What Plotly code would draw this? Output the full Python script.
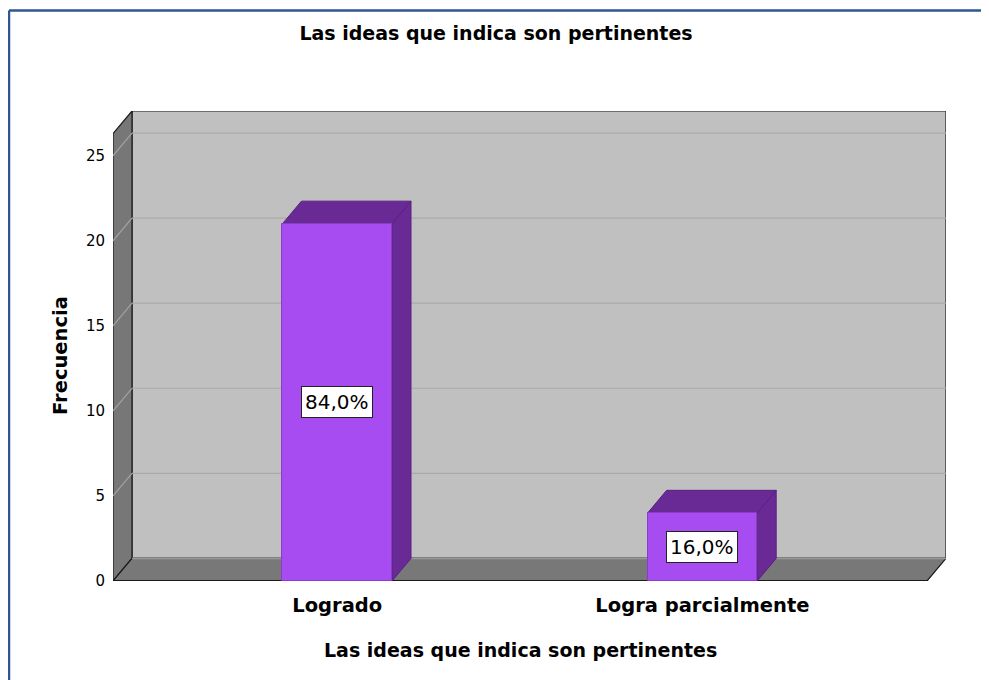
import plotly.graph_objects as go

# ---- data ----
categories = ["Logrado", "Logra parcialmente"]
frequencies = [21, 4]
y_ticks = [0, 5, 10, 15, 20, 25]
chart_title = "Las ideas que indica son pertinentes"
x_title = "Las ideas que indica son pertinentes"
y_title = "Frecuencia"

total = sum(frequencies)
pct_labels = [f"{v / total * 100:.1f}%".replace(".", ",") for v in frequencies]

# ---- geometry / style (data units) ----
X0, X1 = -0.614, 1.615      # front floor extent
DX, DY = 0.052, 1.33        # 3D depth offset
YTOP = 27.63                # axis top
YMAX = YTOP - DY            # front top of the wall
BW = 0.30                   # bar width
FONT = "DejaVu Sans, Verdana, sans-serif"

WALL = "#c0c0c0"
SIDE = "#777777"
FLOOR = "#787878"
EDGE = "#1a1a1a"
BAR_FRONT = "#a64cf0"
BAR_DARK = "#6a2a96"

# page body has an 8px margin: figure is drawn 8px right/down
OFF = 8
W, H = 989 - OFF, 680 - OFF
ML, MT, MR, MB = 113 - OFF, 111 - OFF, 989 - 946, 680 - 581

fig = go.Figure()

def poly(xs, ys, fill, line_color=EDGE, width=1.2):
    fig.add_trace(go.Scatter(
        x=list(xs) + [xs[0]], y=list(ys) + [ys[0]], mode="lines",
        fill="toself", fillcolor=fill,
        line=dict(color=line_color, width=width),
        hoverinfo="skip", showlegend=False))

def seg(xs, ys, color, width=1.2):
    fig.add_trace(go.Scatter(
        x=xs, y=ys, mode="lines", line=dict(color=color, width=width),
        hoverinfo="skip", showlegend=False))

# back wall
poly([X0 + DX, X1 + DX, X1 + DX, X0 + DX], [DY, DY, YMAX + DY, YMAX + DY], WALL)
# left wall
poly([X0, X0 + DX, X0 + DX, X0], [0, DY, YMAX + DY, YMAX], SIDE)
# grid lines
for v in y_ticks[1:]:
    seg([X0 + DX, X1 + DX], [v + DY, v + DY], "#aaaaaa", 1.2)
    seg([X0, X0 + DX], [v, v + DY], "#a3a3a3", 1.2)
# floor
poly([X0, X1, X1 + DX, X0 + DX], [0, 0, DY, DY], FLOOR)
seg([X0 + DX, X1 + DX], [DY, DY], "#9a9a9a", 1.5)
seg([X0, X1], [0, 0], EDGE, 2)

# bar side and top faces
for i, v in enumerate(frequencies):
    xl, xr = i - BW / 2, i + BW / 2
    poly([xr, xr + DX, xr + DX, xr], [0, DY, v + DY, v], BAR_DARK, "#5a2080", 1)
    poly([xl, xr, xr + DX, xl + DX], [v, v, v + DY, v + DY], BAR_DARK, "#5a2080", 1)

# bar front faces (on an overlaid twin axis so they are drawn on top)
fig.add_trace(go.Bar(
    x=list(range(len(categories))), y=frequencies, width=BW,
    xaxis="x2", yaxis="y2",
    marker=dict(color=BAR_FRONT, line=dict(color="#8a3cc8", width=1)),
    hoverinfo="skip", showlegend=False))

# percentage labels
for i, (v, lab) in enumerate(zip(frequencies, pct_labels)):
    fig.add_annotation(
        x=i, y=v / 2, text=lab, showarrow=False,
        font=dict(family=FONT, size=20, color="black"),
        bgcolor="white", bordercolor="#222", borderwidth=1, borderpad=3)

# y axis title
fig.add_annotation(
    xref="paper", yref="paper", x=(60 - 113) / 833, y=(581 - 356) / 470,
    xanchor="center", yanchor="middle",
    text=f"<b>{y_title}</b>", textangle=-90, showarrow=False,
    font=dict(family=FONT, size=19.5, color="black"))

# x axis title (centred on the front floor)
fig.add_annotation(
    xref="x", yref="paper", x=(X0 + X1) / 2, y=(581 - 650) / 470,
    xanchor="center", yanchor="middle",
    text=f"<b>{x_title}</b>", showarrow=False,
    font=dict(family=FONT, size=19, color="black"))

# outer blue frame
fx = (9 - 113) / 833
fy = (581 - 10.5) / 470
fig.add_shape(type="line", xref="paper", yref="paper",
              x0=fx, x1=fx, y0=fy, y1=(581 - 700) / 470,
              line=dict(color="#2f5592", width=2.5))
fig.add_shape(type="line", xref="paper", yref="paper",
              x0=fx, x1=(1000 - 113) / 833, y0=fy, y1=fy,
              line=dict(color="#2f5592", width=2.5))

fig.update_layout(
    width=W, height=H,
    margin=dict(l=ML, r=MR, t=MT, b=MB, autoexpand=False),
    paper_bgcolor="white", plot_bgcolor="white",
    font=dict(family=FONT, color="black"),
    title=dict(text=f"<b>{chart_title}</b>", x=(496 - OFF) / W, xanchor="center",
               y=1 - (33 - OFF) / H, yanchor="middle",
               font=dict(family=FONT, size=19, color="black")),
    xaxis=dict(range=[X0, X1 + DX], tickvals=list(range(len(categories))),
               ticktext=[f"<b>{c}</b>" for c in categories],
               tickfont=dict(family=FONT, size=19.5, color="black"),
               showgrid=False, zeroline=False, showline=False, ticks="",
               ticklabelstandoff=10),
    yaxis=dict(range=[0, YTOP], tickvals=y_ticks,
               tickfont=dict(family=FONT, size=15, color="black"),
               showgrid=False, zeroline=False, showline=False, ticks="",
               ticklabelstandoff=7),
    xaxis2=dict(range=[X0, X1 + DX], overlaying="x", visible=False),
    yaxis2=dict(range=[0, YTOP], overlaying="y", visible=False),
    bargap=0, hovermode=False,
)

fig.write_html("out.html")
